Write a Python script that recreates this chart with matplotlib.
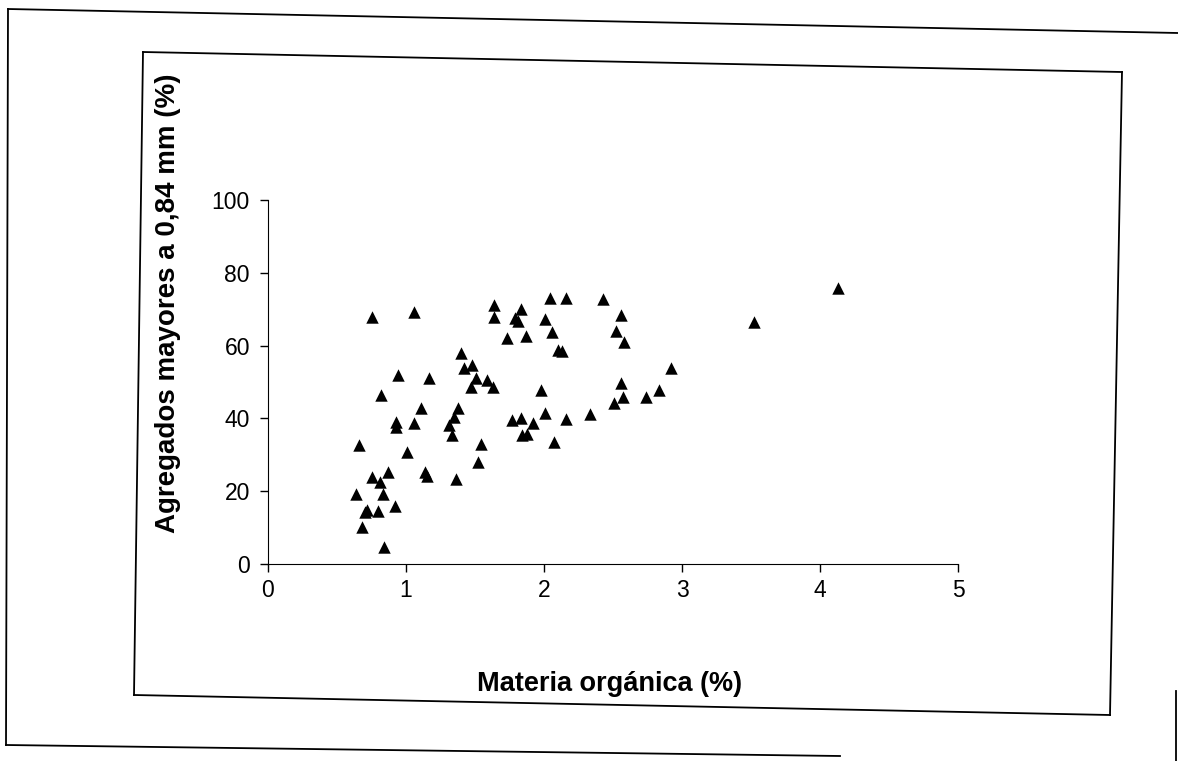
import matplotlib.pyplot as plt
from matplotlib.lines import Line2D

plt.rcParams['font.family'] = ['Liberation Sans', 'DejaVu Sans']

# organic matter (%) vs aggregates > 0.84 mm (%)
materia_organica = [
    0.66, 1.01, 1.54, 1.52, 0.87, 0.75, 0.81, 1.14, 1.15, 1.36,
    0.64, 0.83, 0.70, 0.72, 0.80, 0.92, 0.68, 0.84,
    0.75, 1.06, 1.64, 1.64, 1.79, 1.73, 1.40, 1.42, 1.48, 0.94,
    1.17, 1.51, 1.47, 1.59, 1.63, 0.82, 1.11, 1.38, 1.35, 0.93,
    0.93, 1.06, 1.31, 1.33,
    2.04, 2.16, 2.43, 1.83, 1.81, 2.01, 2.56, 1.87, 2.06, 2.52,
    2.58, 2.10, 2.13, 2.92, 1.98, 2.56, 2.57, 2.51, 2.74, 2.83,
    1.77, 1.83, 2.01, 2.16, 2.33, 1.92, 1.84, 1.88, 2.07,
    4.13, 3.52,
]
agregados = [
    32.7, 30.8, 33.0, 28.0, 25.3, 23.9, 22.5, 25.3, 24.2, 23.4,
    19.2, 19.2, 14.3, 14.8, 14.6, 15.9, 10.2, 4.7,
    67.8, 69.3, 71.2, 67.9, 67.6, 62.2, 57.9, 53.8, 54.7, 51.9,
    51.0, 51.0, 48.7, 50.5, 48.7, 46.4, 42.8, 42.8, 40.5, 39.1,
    37.7, 38.6, 38.2, 35.4,
    73.0, 73.0, 72.7, 70.0, 66.8, 67.3, 68.4, 62.6, 63.7, 63.9,
    61.1, 58.8, 58.6, 53.8, 47.8, 49.8, 46.0, 44.1, 45.8, 47.8,
    39.6, 40.2, 41.4, 39.8, 41.2, 38.7, 35.4, 35.7, 33.6,
    75.7, 66.6,
]

W, H = 1178, 761
fig = plt.figure(figsize=(W / 100, H / 100), dpi=100)

# scanned page frames (slightly skewed)
def px_line(x0, y0, x1, y1, lw=1.3):
    fig.add_artist(Line2D([x0 / W, x1 / W], [1 - y0 / H, 1 - y1 / H],
                          transform=fig.transFigure, color='black', lw=lw))

# outer page frame
px_line(8, 9, 1178, 33)
px_line(8, 9, 6, 745)
px_line(6, 745, 840, 756)
px_line(1176, 691, 1176, 761)
# chart area border
px_line(143, 52, 1122, 72)
px_line(143, 52, 134, 695)
px_line(134, 695, 1110, 715)
px_line(1122, 72, 1110, 715)

ax = fig.add_axes([268 / W, 1 - 564 / H, 690 / W, 364 / H])
ax.scatter(materia_organica, agregados, marker='^', s=80, color='black',
           linewidths=0, zorder=3)

ax.set_xlim(0, 5)
ax.set_ylim(0, 100)
ax.set_xticks(range(0, 6))
ax.set_yticks(range(0, 101, 20))
ax.spines['top'].set_visible(False)
ax.spines['right'].set_visible(False)
ax.tick_params(axis='both', labelsize=16.5, direction='out', length=6, width=1)
ax.tick_params(axis='x', pad=5)
ax.tick_params(axis='y', pad=7)

fig.text(168 / W, 1 - 303 / H, 'Agregados mayores a 0,84 mm (%)', rotation=90,
         ha='center', va='center', fontsize=20, fontweight='bold')
fig.text(610 / W, 1 - 684 / H, 'Materia orgánica (%)',
         ha='center', va='center', fontsize=19.5, fontweight='bold')

fig.savefig('out.png', dpi=100, facecolor='white')
